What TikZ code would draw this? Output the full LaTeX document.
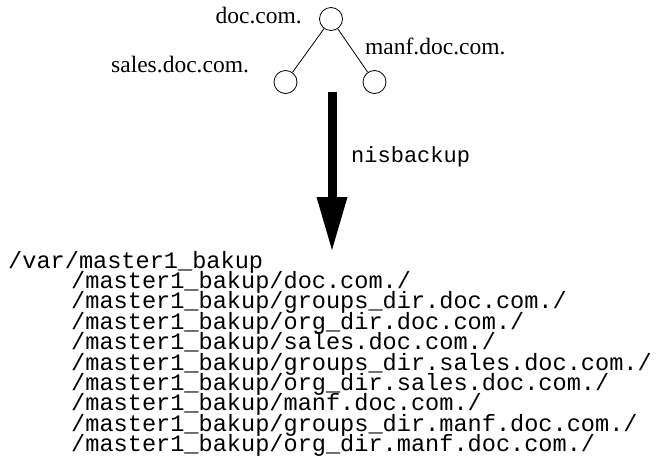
\documentclass[tikz,border=0pt]{standalone}
\usepackage{fontspec}
\setmainfont{Liberation Serif}
\newfontfamily\monofont{Liberation Mono}
\usetikzlibrary{calc}
\begin{document}
\begin{tikzpicture}[x=1pt,y=-1pt,
  dot/.style={circle,draw,line width=0.8pt,minimum size=23pt,inner sep=0pt},
  lab/.style={font=\fontsize{23.5}{24}\selectfont,inner sep=0pt,anchor=base west},
  mono/.style={font=\monofont\fontsize{23.6}{24}\selectfont,inner sep=0pt,anchor=base west},
  edgeline/.style={line width=0.8pt}]
\useasboundingbox (0,0) rectangle (660,458);
% tree
\node[dot] (root) at (331,19) {};
\node[dot] (sales) at (285.5,82) {};
\node[dot] (manf) at (374.5,82) {};
\draw[edgeline] (root) -- (sales);
\draw[edgeline] (root) -- (manf);
\node[lab,anchor=base east] (lroot) at (302,23) {doc.com.};
\node[lab] (lsales) at (111,72) {sales.doc.com.};
\node[lab] (lmanf) at (365,54) {manf.doc.com.};
% arrow
\coordinate (atop) at (332,92);
\coordinate (atip) at (332,250);
\fill ($(atop)+(-4.5,0)$) rectangle ($(atip)+(4.5,-52)$);
\fill ($(atip)+(-15.5,-53)$) -- ($(atip)+(15.5,-53)$) -- (atip) -- cycle;
\node[mono,font=\monofont\fontsize{22}{24}\selectfont] (nis) at (351,162) {nisbackup};
% paths
\node[mono] (p0) at (8,268) {/var/master1\_bakup};
\node[mono] (p1) at (71,288.4) {/master1\_bakup/doc.com./};
\node[mono] (p2) at (71,308.8) {/master1\_bakup/groups\_dir.doc.com./};
\node[mono] (p3) at (71,329.2) {/master1\_bakup/org\_dir.doc.com./};
\node[mono] (p4) at (71,349.6) {/master1\_bakup/sales.doc.com./};
\node[mono] (p5) at (71,370.0) {/master1\_bakup/groups\_dir.sales.doc.com./};
\node[mono] (p6) at (71,390.4) {/master1\_bakup/org\_dir.sales.doc.com./};
\node[mono] (p7) at (71,410.8) {/master1\_bakup/manf.doc.com./};
\node[mono] (p8) at (71,431.2) {/master1\_bakup/groups\_dir.manf.doc.com./};
\node[mono] (p9) at (71,451.6) {/master1\_bakup/org\_dir.manf.doc.com./};
\end{tikzpicture}
\end{document}
